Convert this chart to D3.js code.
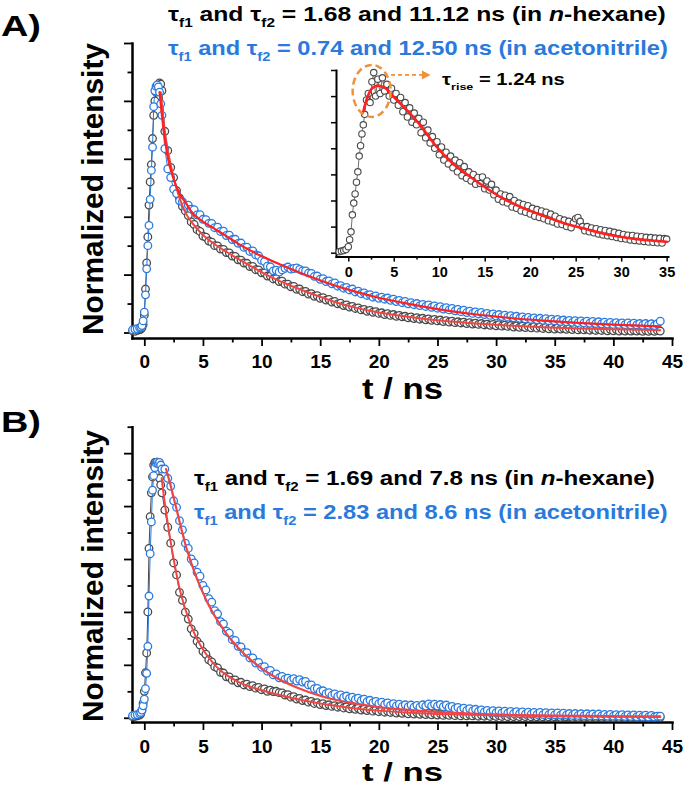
<!DOCTYPE html>
<html><head><meta charset="utf-8">
<script src="https://cdn.jsdelivr.net/npm/d3@7"></script>
<style>body{margin:0;background:#fff}svg{display:block}text{white-space:pre}</style>
</head><body><svg id="c" width="685" height="787"></svg>
<script>
// ---------- DATA ----------
const tGrid = [
 -1,-0.8,-0.6,-0.4,-0.3,-0.2,-0.1,0,0.1,0.2,0.3,0.4,0.5,0.6,0.7,0.8,0.9,1,1.1,1.2,1.3,1.4,1.5,
 1.75,2,2.25,2.5,2.75,3,3.25,3.5,
 3.75,4,4.25,4.5,4.75,5,5.25,5.5,
 5.75,6,6.25,6.5,6.75,7,7.25,7.5,
 7.75,8,8.25,8.5,8.75,9,9.25,9.5,
 9.75,10,10.25,10.5,10.75,11,11.25,11.5,
 11.75,12,12.25,12.5,12.75,13,13.25,13.5,
 13.75,14,14.25,14.5,14.75,15,15.25,15.5,
 15.75,16,16.25,16.5,16.75,17,17.25,17.5,
 17.75,18,18.25,18.5,18.75,19,19.25,19.5,
 19.75,20,20.25,20.5,20.75,21,21.25,21.5,
 21.75,22,22.25,22.5,22.75,23,23.25,23.5,
 23.75,24,24.25,24.5,24.75,25,25.25,25.5,
 25.75,26,26.25,26.5,26.75,27,27.25,27.5,
 27.75,28,28.25,28.5,28.75,29,29.25,29.5,
 29.75,30,30.25,30.5,30.75,31,31.25,31.5,
 31.75,32,32.25,32.5,32.75,33,33.25,33.5,
 33.75,34,34.25,34.5,34.75,35,35.25,35.5,
 35.75,36,36.25,36.5,36.75,37,37.25,37.5,
 37.75,38,38.25,38.5,38.75,39,39.25,39.5,
 39.75,40,40.25,40.5,40.75,41,41.25,41.5,
 41.75,42,42.25,42.5,42.75,43,43.25,43.5,
 43.75,44
];
// Panel A, n-hexane (grey)
const hexA = [
 .006,.004,.007,.009,.012,.016,.028,.06,.15,.24,.33,.44,.52,.58,.67,.75,.8,.83,.845,.855,.862,.858,.835,
 .695,.628,.57,.535,.49,.465,.436,.42,
 .404,.382,.373,.355,.349,.333,.329,.316,
 .312,.3,.299,.288,.287,.276,.275,.264,
 .263,.251,.25,.24,.239,.228,.228,.217,
 .216,.206,.206,.195,.195,.185,.186,.176,
 .177,.167,.167,.158,.159,.149,.15,.141,
 .142,.133,.134,.125,.127,.118,.12,.112,
 .114,.105,.107,.099,.101,.093,.095,.088,
 .09,.083,.085,.078,.08,.073,.076,.07,
 .072,.066,.068,.062,.065,.059,.062,.056,
 .059,.054,.056,.051,.054,.048,.051,.046,
 .049,.044,.047,.042,.045,.04,.043,.038,
 .041,.036,.039,.034,.037,.033,.036,.031,
 .034,.029,.032,.028,.031,.026,.029,.025,
 .028,.023,.027,.022,.025,.021,.024,.019,
 .023,.018,.022,.017,.021,.016,.02,.015,
 .019,.014,.018,.013,.017,.012,.016,.012,
 .015,.011,.014,.01,.014,.009,.013,.009,
 .012,.008,.012,.007,.011,.007,.011,.006,
 .01,.006,.01,.005,.009,.005,.009,.005,
 .008,.005,.008,.004,.008,.004,.007,.004,
 .007,.005
];
// Panel A, acetonitrile (blue)
const acnA = [
 .009,.011,.013,.016,.019,.024,.04,.07,.13,.22,.3,.37,.46,.56,.64,.78,.835,.85,.855,.848,.83,.79,.75,
 .635,.565,.535,.495,.48,.455,.452,.436,
 .44,.426,.424,.406,.407,.391,.39,.377,
 .377,.362,.364,.349,.35,.335,.336,.321,
 .322,.308,.309,.294,.295,.28,.282,.268,
 .265,.249,.245,.229,.227,.213,.215,.209,
 .216,.222,.226,.219,.221,.223,.218,.213,
 .213,.205,.204,.194,.195,.184,.186,.176,
 .178,.168,.171,.16,.162,.153,.156,.147,
 .15,.14,.143,.134,.137,.128,.131,.122,
 .126,.118,.122,.115,.119,.111,.115,.107,
 .111,.103,.107,.099,.103,.096,.1,.093,
 .097,.09,.095,.087,.092,.084,.089,.081,
 .086,.078,.083,.075,.08,.072,.077,.069,
 .074,.066,.071,.064,.069,.062,.066,.059,
 .064,.057,.062,.055,.06,.053,.058,.051,
 .056,.049,.054,.047,.052,.045,.05,.044,
 .049,.042,.048,.041,.046,.04,.045,.038,
 .043,.037,.042,.035,.041,.034,.04,.033,
 .039,.032,.038,.031,.037,.03,.036,.029,
 .035,.028,.034,.028,.033,.027,.033,.026,
 .032,.026,.031,.025,.031,.025,.03,.024,
 .03,.039
];
// Panel B, n-hexane (grey)
const hexB = [
 .004,.005,.007,.01,.015,.028,.055,.1,.17,.245,.4,.64,.76,.85,.91,.955,.965,.962,.966,.948,.905,.88,.85,
 .785,.72,.66,.585,.54,.474,.444,.399,
 .373,.336,.318,.289,.275,.251,.24,.219,
 .211,.193,.188,.172,.169,.155,.154,.142,
 .143,.132,.134,.124,.127,.118,.121,.112,
 .115,.106,.109,.1,.104,.099,.1,.095,
 .094,.086,.087,.078,.08,.071,.073,.065,
 .067,.059,.062,.054,.057,.05,.053,.046,
 .049,.043,.046,.04,.043,.037,.041,.034,
 .038,.032,.036,.029,.033,.027,.031,.025,
 .029,.023,.027,.021,.025,.02,.024,.018,
 .022,.017,.021,.015,.02,.014,.019,.013,
 .018,.012,.017,.011,.016,.01,.015,.009,
 .014,.009,.013,.008,.013,.007,.012,.007,
 .011,.007,.011,.006,.01,.006,.01,.005,
 .01,.005,.009,.005,.009,.004,.009,.004,
 .008,.004,.008,.004,.008,.003,.007,.003,
 .007,.003,.007,.003,.007,.003,.006,.002,
 .006,.003,.006,.002,.006,.002,.006,.002,
 .005,.002,.005,.002,.005,.002,.005,.001,
 .005,.001,.005,.001,.004,.001,.004,.001,
 .004,.001,.004,.001,.004,.001,.004,.001,
 .004,.002
];
// Panel B, acetonitrile (blue)
const acnB = [
 .008,.01,.012,.016,.02,.029,.045,.07,.11,.168,.27,.46,.62,.74,.86,.915,.945,.962,.966,.96,.965,.955,.94,
 .94,.905,.875,.82,.795,.745,.71,.66,
 .64,.6,.585,.55,.535,.5,.483,.45,
 .437,.405,.393,.363,.355,.327,.32,.295,
 .292,.27,.268,.247,.246,.226,.226,.207,
 .209,.191,.193,.176,.179,.162,.166,.151,
 .156,.146,.15,.142,.148,.139,.144,.135,
 .137,.124,.124,.11,.111,.099,.102,.091,
 .095,.085,.09,.081,.086,.077,.082,.073,
 .078,.069,.074,.065,.07,.061,.066,.057,
 .062,.053,.059,.05,.056,.047,.053,.045,
 .051,.043,.049,.041,.048,.04,.047,.04,
 .049,.044,.052,.045,.051,.044,.05,.042,
 .048,.039,.043,.034,.039,.03,.036,.028,
 .034,.026,.032,.024,.03,.022,.028,.02,
 .027,.019,.026,.018,.025,.017,.024,.016,
 .023,.015,.022,.014,.021,.014,.02,.013,
 .02,.012,.019,.012,.018,.011,.018,.01,
 .017,.01,.016,.009,.016,.009,.015,.008,
 .015,.008,.014,.007,.014,.007,.013,.006,
 .013,.006,.012,.006,.012,.005,.011,.005,
 .011,.004,.01,.004,.01,.003,.009,.003,
 .006,.006
];
// Fit curves
const fitHexA_t = [1.4,1.6,1.8,2,2.25,2.5,3,3.5,4,5,6,7,8,9,10,11,12,14,16,18,20,22,25,28,31,34,37,40,44];
const fitHexA_v = [.83,.75,.68,.63,.58,.535,.465,.415,.383,.337,.305,.279,.254,.231,.209,.188,.17,.138,.109,.086,.069,.057,.042,.032,.024,.018,.014,.011,.008];
const fitAcnA_t = [1.3,1.5,1.75,2,2.5,3,3.5,4,5,6,7,8,9,10,11,12,14,16,18,20,22,25,28,31,34,37,40,44];
const fitAcnA_v = [.83,.75,.67,.605,.53,.48,.45,.418,.383,.358,.333,.307,.284,.264,.245,.228,.195,.166,.141,.12,.103,.081,.064,.051,.041,.033,.027,.021];
const fitHexB_t = [1.48,1.75,2,2.5,3,3.5,4,4.5,5,5.5,6,6.5,7,8,9,10,11,12,13,14.5,16,17.5,20,23,26,30,35,40,44];
const fitHexB_v = [.905,.81,.735,.6,.49,.41,.347,.297,.258,.227,.2,.179,.162,.136,.118,.104,.092,.081,.071,.058,.047,.038,.027,.018,.013,.009,.006,.004,.003];
const fitAcnB_t = [1.85,2.2,2.5,3,3.5,4,4.5,5,5.5,6,6.5,7,7.5,8,9,10,11,12,13,14.5,16,17.5,20,23,26,29,32,35,40,44];
const fitAcnB_v = [.94,.885,.832,.742,.655,.585,.525,.472,.425,.385,.35,.318,.29,.265,.222,.187,.158,.134,.114,.09,.071,.057,.04,.028,.02,.014,.01,.008,.006,.005];
// Inset (rise-time trace)
const tInset = [
 -1,-0.75,-0.5,-0.25,0,0.15,0.3,0.45,0.6,0.75,0.9,1.05,1.2,1.35,1.5,1.65,1.8,2,2.2,2.4,2.6,2.8,3,
 3.25,3.5,3.75,4,4.25,4.5,4.75,5,
 5.25,5.5,5.75,6,6.25,6.5,6.75,7,
 7.25,7.5,7.75,8,8.25,8.5,8.75,9,
 9.25,9.5,9.75,10,10.25,10.5,10.75,11,
 11.25,11.5,11.75,12,12.25,12.5,12.75,13,
 13.25,13.5,13.75,14,14.25,14.5,14.75,15,
 15.25,15.5,15.75,16,16.25,16.5,16.75,17,
 17.25,17.5,17.75,18,18.25,18.5,18.75,19,
 19.25,19.5,19.75,20,20.25,20.5,20.75,21,
 21.25,21.5,21.75,22,22.25,22.5,22.75,23,
 23.25,23.5,23.75,24,24.25,24.5,24.75,25,
 25.25,25.5,25.75,26,26.25,26.5,26.75,27,
 27.25,27.5,27.75,28,28.25,28.5,28.75,29,
 29.25,29.5,29.75,30,30.25,30.5,30.75,31,
 31.25,31.5,31.75,32,32.25,32.5,32.75,33,
 33.25,33.5,33.75,34,34.25,34.5,34.75,35
];
const insetVal = [
 .004,.006,.008,.012,.023,.05,.08,.145,.19,.225,.27,.31,.37,.41,.455,.49,.53,.585,.61,.575,.655,.69,.6,
 .665,.61,.67,.62,.645,.6,.63,.585,
 .61,.565,.595,.54,.575,.52,.555,.5,
 .535,.49,.515,.46,.5,.44,.47,.42,
 .445,.4,.425,.375,.405,.355,.385,.34,
 .37,.325,.355,.31,.345,.295,.33,.285,
 .31,.275,.3,.262,.288,.265,.29,.245,
 .275,.24,.262,.222,.24,.205,.225,.195,
 .22,.19,.215,.175,.2,.17,.19,.16,
 .185,.155,.18,.148,.17,.14,.165,.135,
 .16,.13,.155,.122,.148,.118,.14,.11,
 .13,.108,.125,.1,.12,.096,.115,.13,
 .135,.12,.1,.084,.1,.08,.095,.076,
 .092,.072,.088,.068,.085,.065,.082,.062,
 .078,.058,.074,.054,.07,.052,.067,.049,
 .066,.047,.063,.045,.061,.043,.059,.041,
 .058,.04,.056,.038,.055,.037,.054,.052
];
const fitInset_t = [1.65,2,2.5,3,3.3,3.6,4,4.95,6.4,7.9,9.7,11.5,13.4,15.2,17,18.9,20.7,22.5,24.4,26.2,28,29.9,31.7,33.5,35];
const fitInset_v = [.54,.585,.625,.638,.64,.638,.632,.598,.547,.489,.406,.342,.291,.247,.208,.176,.151,.128,.106,.09,.074,.061,.052,.046,.042];
// Tick values
const xMajorTicks = [0,5,10,15,20,25,30,35,40,45];
const xMinorTicks = [2.5,7.5,12.5,17.5,22.5,27.5,32.5,37.5,42.5];
const yMajorTicksA = [0,0.2,0.4,0.6,0.8,1.0];
const yMinorTicksA = [0.1,0.3,0.5,0.7,0.9];
const yMajorTicksB = [0,0.2,0.4,0.6,0.8,1.0];
const yMinorTicksB = [0.1,0.3,0.5,0.7,0.9,1.1];
const insetXMajor = [0,5,10,15,20,25,30,35];
const insetXMinor = [2.5,7.5,12.5,17.5,22.5,27.5,32.5];
const insetYTicks = [0,0.1,0.2,0.3,0.4,0.5,0.6,0.7];

// ---------- STYLE ----------
const FONT = '"Liberation Sans", Arial, Helvetica, sans-serif';
const GREY = "#4a4a4a", BLUE = "#2a7ade", RED1 = "#ff2020", RED2 = "#f04545", ORANGE = "#f0903a";
const svg = d3.select("#c");

// ---------- SCALES ----------
const xMain = d3.scaleLinear().domain([-1.05,45]).range([132,672]);
const yA = d3.scaleLinear().domain([-0.019,1.0]).range([338,43]);
const yB = d3.scaleLinear().domain([-0.016,1.1]).range([722,426.7]);
const xIn = d3.scaleLinear().domain([-1.35,35.15]).range([336,668]);
const yIn = d3.scaleLinear().domain([-0.015,0.7]).range([256.6,70]);

function axes(x, y, c){
  const gx = svg.append("g").attr("transform",`translate(0,${y.range()[0]})`);
  gx.call(d3.axisBottom(x).tickValues(c.xMaj).tickSize(c.tMaj).tickSizeOuter(0).tickPadding(c.pad).tickFormat(d3.format("d")));
  gx.append("g").call(d3.axisBottom(x).tickValues(c.xMin).tickSize(c.tMin).tickSizeOuter(0).tickFormat("")).select(".domain").remove();
  gx.attr("font-size",c.fs).attr("font-family",FONT).attr("font-weight","bold");
  const gy = svg.append("g").attr("transform",`translate(${x.range()[0]},0)`);
  gy.call(d3.axisLeft(y).tickValues(c.yMaj).tickSize(c.tMaj).tickSizeOuter(0).tickFormat(""));
  if(c.yMin) gy.append("g").call(d3.axisLeft(y).tickValues(c.yMin).tickSize(c.tMin).tickSizeOuter(0).tickFormat("")).select(".domain").remove();
  [gx,gy].forEach(g=>{
    g.selectAll(".domain").attr("stroke","#000").attr("stroke-width",c.sw).attr("stroke-linecap","square");
    g.selectAll(".tick line").attr("stroke","#000").attr("stroke-width",c.tw);
    g.selectAll(".tick text").attr("fill","#000");
  });
}

function series(x, y, T, V, color, r, sw, lw){
  const pts = T.map((t,i)=>[t,V[i]]);
  const g = svg.append("g");
  g.append("path").datum(pts).attr("fill","none").attr("stroke",color).attr("stroke-width",lw)
    .attr("d", d3.line().x(d=>x(d[0])).y(d=>y(d[1])));
  g.selectAll("circle").data(pts).join("circle")
    .attr("cx",d=>x(d[0])).attr("cy",d=>y(d[1])).attr("r",r)
    .attr("fill","#fff").attr("stroke",color).attr("stroke-width",sw);
}
function fit(x, y, T, V, color, w){
  const pts = T.map((t,i)=>[t,V[i]]);
  svg.append("path").datum(pts).attr("fill","none").attr("stroke",color).attr("stroke-width",w)
    .attr("stroke-linecap","round")
    .attr("d", d3.line().curve(d3.curveMonotoneX).x(d=>x(d[0])).y(d=>y(d[1])));
}
function rich(parts, o){
  const t = svg.append("text").attr("font-family",FONT).attr("font-weight","bold")
    .attr("font-size",o.size).attr("fill",o.color||"#000").attr("text-anchor",o.rot?"middle":"start");
  let sub=false;
  parts.forEach(([s,k])=>{
    const ts=t.append("tspan").text(s);
    if(k==="s"){ ts.attr("font-size",o.size*0.62).attr("dy",o.size*0.3); sub=true; }
    else { if(sub){ ts.attr("dy",-o.size*0.3); sub=false; } if(k==="i") ts.attr("font-style","italic"); }
  });
  const w = t.node().getBBox().width;
  const s = o.width ? o.width/w : 1;
  t.attr("transform", o.rot ? `translate(${o.x},${o.y}) rotate(-90) scale(${s},1)` : `translate(${o.x},${o.y}) scale(${s},1)`);
}

// ---------- PANEL A ----------
axes(xMain, yA, {xMaj:xMajorTicks,xMin:xMinorTicks,yMaj:yMajorTicksA,yMin:yMinorTicksA,tMaj:8,tMin:4.5,pad:9,fs:19,sw:2.5,tw:1.8});
series(xMain, yA, tGrid, hexA, GREY, 3.8, 1.3, 1);
series(xMain, yA, tGrid, acnA, BLUE, 3.8, 1.3, 1);
fit(xMain, yA, fitHexA_t, fitHexA_v, RED2, 2);
fit(xMain, yA, fitAcnA_t, fitAcnA_v, RED1, 2.2);

// inset
axes(xIn, yIn, {xMaj:insetXMajor,xMin:insetXMinor,yMaj:insetYTicks,yMin:null,tMaj:5,tMin:3,pad:5,fs:14.5,sw:2,tw:1.5});
series(xIn, yIn, tInset, insetVal, GREY, 3.2, 1.1, 0.8);
fit(xIn, yIn, fitInset_t, fitInset_v, RED1, 2.6);
svg.append("ellipse").attr("cx",xIn(2.57)).attr("cy",yIn(0.62)).attr("rx",19).attr("ry",26)
  .attr("fill","none").attr("stroke",ORANGE).attr("stroke-width",2.5).attr("stroke-dasharray","7,4");
svg.append("line").attr("x1",xIn(4.7)).attr("x2",xIn(8.2)).attr("y1",yIn(0.681)).attr("y2",yIn(0.681))
  .attr("stroke",ORANGE).attr("stroke-width",1.8).attr("stroke-dasharray","4,3");
svg.append("path").attr("fill",ORANGE)
  .attr("d",`M${xIn(9.05)},${yIn(0.681)} L${xIn(8.1)},${yIn(0.681)-4.5} L${xIn(8.1)},${yIn(0.681)+4.5} Z`);
rich([["τ"],["rise","s"],[" = 1.24 ns"]], {x:442,y:85,size:16,width:123});

// titles & labels A
rich([["A)"]], {x:1,y:36,size:29,width:40});
rich([["τ"],["f1","s"],[" and τ"],["f2","s"],[" = 1.68 and 11.12 ns (in "],["n","i"],["-hexane)"]], {x:168,y:21,size:21,width:498});
rich([["τ"],["f1","s"],[" and τ"],["f2","s"],[" = 0.74 and 12.50 ns (in acetonitrile)"]], {x:168,y:55,size:21,width:500,color:BLUE});
rich([["Normalized intensity"]], {x:103,y:189,size:29,width:292,rot:true});
rich([["t / ns"]], {x:362,y:399,size:29,width:81});

// ---------- PANEL B ----------
axes(xMain, yB, {xMaj:xMajorTicks,xMin:xMinorTicks,yMaj:yMajorTicksB,yMin:yMinorTicksB,tMaj:8,tMin:4.5,pad:9.5,fs:19,sw:2.5,tw:1.8});
series(xMain, yB, tGrid, hexB, GREY, 3.8, 1.3, 1);
series(xMain, yB, tGrid, acnB, BLUE, 3.8, 1.3, 1);
fit(xMain, yB, fitHexB_t, fitHexB_v, RED2, 2);
fit(xMain, yB, fitAcnB_t, fitAcnB_v, RED2, 2.2);

rich([["B)"]], {x:1,y:432,size:29,width:40});
rich([["τ"],["f1","s"],[" and τ"],["f2","s"],[" = 1.69 and 7.8 ns (in "],["n","i"],["-hexane)"]], {x:194,y:485,size:21,width:461});
rich([["τ"],["f1","s"],[" and τ"],["f2","s"],[" = 2.83 and 8.6 ns (in acetonitrile)"]], {x:194,y:519,size:21,width:474,color:BLUE});
rich([["Normalized intensity"]], {x:103,y:576,size:29,width:292,rot:true});
rich([["t / ns"]], {x:362,y:781,size:26,width:81});
</script></body></html>
